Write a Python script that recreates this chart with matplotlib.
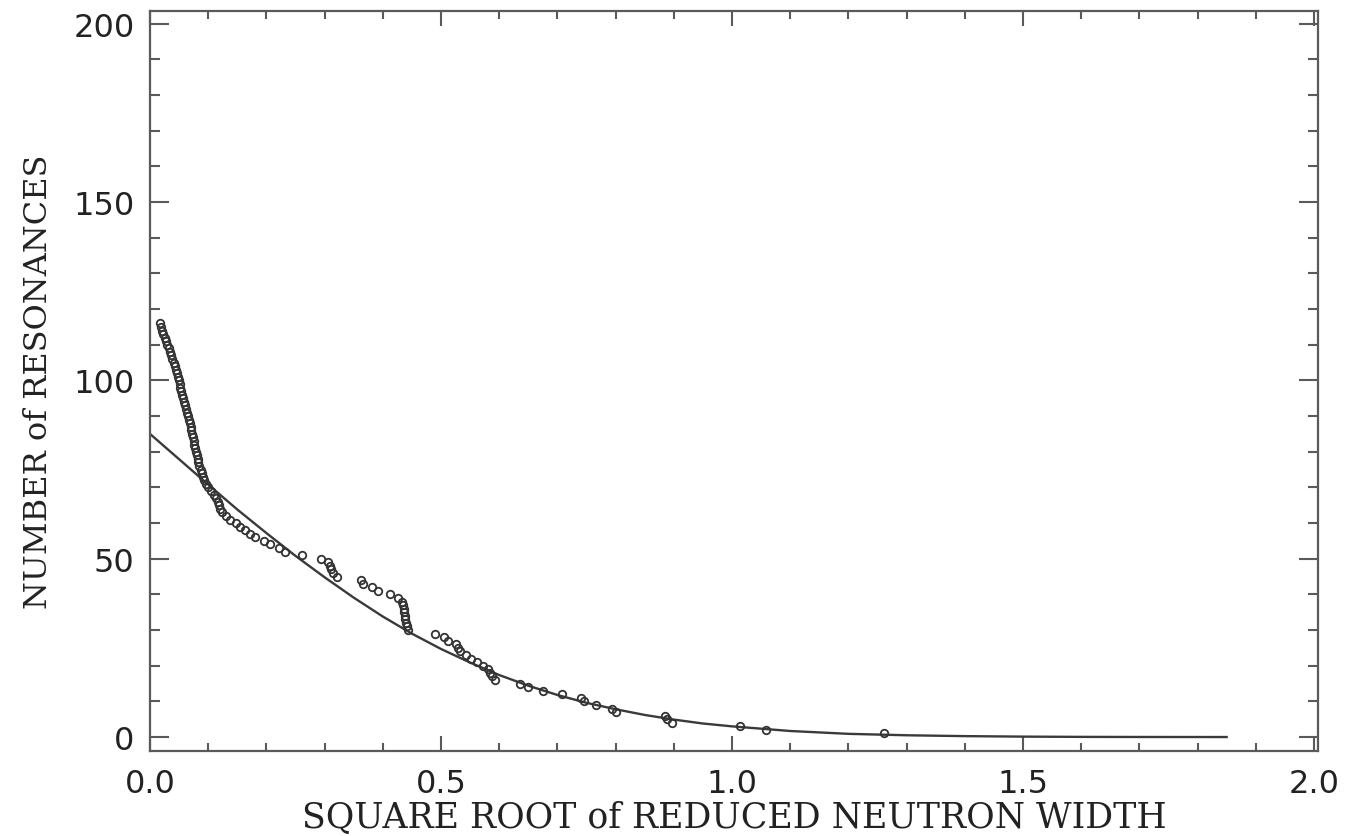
import matplotlib.pyplot as plt
from matplotlib.ticker import MultipleLocator

# resonances, sorted by decreasing sqrt of reduced neutron width
sqrt_width = [
    0.017, 0.019, 0.021, 0.023, 0.026, 0.028, 0.030, 0.032, 0.034, 0.036,
    0.038, 0.041, 0.043, 0.045, 0.047, 0.048, 0.050, 0.051, 0.052, 0.054,
    0.055, 0.057, 0.058, 0.060, 0.062, 0.063, 0.065, 0.067, 0.068, 0.070,
    0.071, 0.072, 0.074, 0.075, 0.076, 0.078, 0.079, 0.080, 0.082, 0.083,
    0.085, 0.087, 0.089, 0.091, 0.093, 0.096, 0.099, 0.104, 0.110, 0.114,
    0.117, 0.119, 0.121, 0.124, 0.130, 0.137, 0.148, 0.155, 0.164, 0.172,
    0.180, 0.195, 0.207, 0.222, 0.232, 0.262, 0.293, 0.305, 0.309, 0.311,
    0.315, 0.322, 0.362, 0.366, 0.381, 0.392, 0.412, 0.426, 0.433, 0.435,
    0.436, 0.437, 0.438, 0.439, 0.440, 0.441, 0.443, 0.490, 0.505, 0.512,
    0.526, 0.530, 0.533, 0.543, 0.552, 0.562, 0.572, 0.580, 0.585, 0.588,
    0.592, 0.636, 0.650, 0.676, 0.708, 0.740, 0.745, 0.766, 0.794, 0.800,
    0.885, 0.888, 0.897, 1.014, 1.058, 1.262,
]
# number of resonances at or above each width
n_resonances = list(range(116, 0, -1))

# Porter-Thomas fit curve
fit_x = [0.0, 0.05, 0.1, 0.15, 0.2, 0.25, 0.3, 0.35, 0.4, 0.45, 0.5,
         0.55, 0.6, 0.65, 0.7, 0.75, 0.8, 0.85, 0.9, 0.95,
         1.0, 1.1, 1.2, 1.3, 1.4, 1.5, 1.6, 1.7, 1.85]
fit_y = [85.0, 77.9, 70.8, 63.8, 57.2, 50.8, 44.8, 39.1, 33.8, 29.0, 24.7,
         20.9, 17.4, 14.4, 11.8, 9.6, 7.8, 6.2, 4.9, 3.8,
         3.0, 1.7, 0.9, 0.5, 0.26, 0.12, 0.05, 0.02, 0.005]

ink = "#333333"
axis_col = "#5a5a5a"

fig = plt.figure(figsize=(13.54, 8.37), dpi=100)
ax = fig.add_axes([0.1108, 0.1016, 0.8626, 0.8841])

ax.plot(fit_x, fit_y, color="#3a3a3a", linewidth=1.7)
ax.plot(sqrt_width, n_resonances, linestyle="none", marker="o",
        markersize=5.4, markerfacecolor="none", markeredgecolor=ink,
        markeredgewidth=1.3)

ax.set_xlim(0, 2.007)
ax.set_ylim(-3.9, 203.6)

ax.xaxis.set_major_locator(MultipleLocator(0.5))
ax.xaxis.set_minor_locator(MultipleLocator(0.1))
ax.yaxis.set_major_locator(MultipleLocator(50))
ax.yaxis.set_minor_locator(MultipleLocator(10))
ax.xaxis.set_major_formatter(plt.FuncFormatter(lambda v, p: f"{v:.1f}"))

for s in ax.spines.values():
    s.set_color(axis_col)
    s.set_linewidth(1.6)

ax.tick_params(axis="x", which="both", direction="in", top=True,
               colors=axis_col, labelcolor="#222222", width=1.5)
ax.tick_params(axis="y", which="both", direction="in", right=True,
               colors=axis_col, labelcolor="#222222", width=1.5)
ax.tick_params(axis="x", which="major", length=11, pad=12)
ax.tick_params(axis="x", which="minor", length=6)
ax.tick_params(axis="y", which="major", length=14, pad=11)
ax.tick_params(axis="y", which="minor", length=7)

for lab in ax.get_xticklabels() + ax.get_yticklabels():
    lab.set_fontfamily("DejaVu Sans")
    lab.set_fontsize(23)

ax.set_xlabel("SQUARE ROOT of REDUCED NEUTRON WIDTH", fontfamily="DejaVu Serif",
              fontsize=25, color="#222222", labelpad=1)
ax.set_ylabel("NUMBER of RESONANCES", fontfamily="DejaVu Serif",
              fontsize=23, color="#222222", labelpad=14)

fig.savefig("out.png", dpi=100)
